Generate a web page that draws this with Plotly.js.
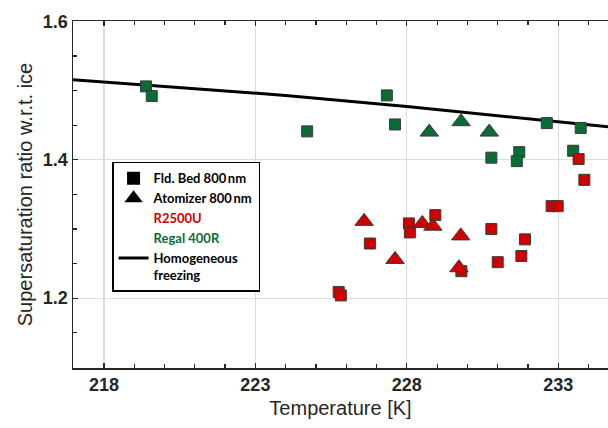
<!DOCTYPE html>
<html>
<head>
<meta charset="utf-8">
<script src="https://cdn.plot.ly/plotly-3.0.1.min.js"></script>
<style>html,body{margin:0;padding:0;background:#fff;}#chart{width:608px;height:428px;}</style>
</head>
<body>
<div id="chart"></div>
<script>
// Homogeneous freezing line
const homT = [216.9, 220, 224, 228, 232, 235];
const homS = [1.516, 1.506, 1.493, 1.477, 1.460, 1.446];

// Regal 400R, Fld. Bed (green squares)
const regalBedT = [219.39, 219.58, 224.71, 227.34, 227.61, 232.62, 233.74, 230.79, 231.71, 231.63, 233.49];
const regalBedS = [1.506, 1.492, 1.441, 1.493, 1.451, 1.453, 1.446, 1.403, 1.411, 1.398, 1.413];

// Regal 400R, Atomizer (green triangles)
const regalAtoT = [228.74, 229.79, 230.72];
const regalAtoS = [1.440, 1.455, 1.440];

// R2500U, Fld. Bed (red squares)
const rBedT = [225.75, 225.82, 226.78, 228.07, 228.10, 228.94, 230.79, 231.90, 231.78, 231.00, 229.80, 232.78, 232.98, 233.67, 233.86];
const rBedS = [1.209, 1.204, 1.279, 1.308, 1.295, 1.320, 1.300, 1.285, 1.261, 1.252, 1.239, 1.333, 1.333, 1.401, 1.371];

// R2500U, Atomizer (red triangles)
const rAtoT = [226.59, 227.61, 228.51, 228.86, 229.78, 229.72];
const rAtoS = [1.311, 1.256, 1.308, 1.304, 1.290, 1.244];

const RED = '#D00000';
const GREEN = '#0A6B35';
const EDGE = '#3a3a3a';

const traces = [
  {x: homT, y: homS, mode: 'lines', line: {color: '#000', width: 3},
   name: 'Homogeneous<br>freezing', legendrank: 5},
  {x: regalBedT, y: regalBedS, mode: 'markers', showlegend: false,
   marker: {symbol: 'square', size: 11, color: GREEN, line: {color: EDGE, width: 1}}},
  {x: regalAtoT, y: regalAtoS, mode: 'markers', showlegend: false,
   marker: {symbol: 'triangle-up', size: 16, color: GREEN, line: {color: EDGE, width: 1}}},
  {x: rBedT, y: rBedS, mode: 'markers', showlegend: false,
   marker: {symbol: 'square', size: 11, color: RED, line: {color: EDGE, width: 1}}},
  {x: rAtoT, y: rAtoS, mode: 'markers', showlegend: false,
   marker: {symbol: 'triangle-up', size: 16, color: RED, line: {color: EDGE, width: 1}}},
  // legend-only entries
  {x: [null], y: [null], mode: 'markers', name: 'Fld. Bed 800\u2009nm', legendrank: 1,
   marker: {symbol: 'square', size: 13, color: '#000'}},
  {x: [null], y: [null], mode: 'markers', name: 'Atomizer 800\u2009nm', legendrank: 2,
   marker: {symbol: 'triangle-up', size: 16, color: '#000'}},
  {x: [null], y: [null], mode: 'markers', name: '<span style="color:' + RED + '">R2500U</span>', legendrank: 3,
   marker: {symbol: 'square', size: 10, color: 'rgba(0,0,0,0)'}},
  {x: [null], y: [null], mode: 'markers', name: '<span style="color:' + GREEN + '">Regal 400R</span>', legendrank: 4,
   marker: {symbol: 'square', size: 10, color: 'rgba(0,0,0,0)'}}
];

const axisFont = {family: 'Liberation Sans, Arial, sans-serif', size: 18, color: '#262626', weight: 'bold'};
const titleFont = {family: 'Liberation Sans, Arial, sans-serif', size: 20, color: '#262626'};

const layout = {
  width: 608, height: 428,
  margin: {l: 73, r: 0, t: 21, b: 60},
  paper_bgcolor: '#fff', plot_bgcolor: '#fff',
  showlegend: true,
  legend: {
    x: 0.073, y: 0.594, xanchor: 'left', yanchor: 'top',
    bgcolor: '#fff', bordercolor: '#000', borderwidth: 1.5,
    font: {family: 'Lato, sans-serif', size: 13, color: '#000', weight: 'bold'},
    valign: 'top', traceorder: 'normal'
  },
  xaxis: {
    range: [216.98, 234.64], tick0: 218, dtick: 5,
    ticks: 'inside', ticklen: 5, tickwidth: 1.2, tickcolor: '#262626',
    minor: {dtick: 1, ticks: 'inside', ticklen: 4, tickcolor: '#262626', showgrid: false},
    showline: true, linecolor: '#262626', linewidth: 1.5, mirror: 'ticks',
    showgrid: true, gridcolor: '#dcdcdc', gridwidth: 1.2,
    zeroline: false, tickfont: axisFont,
    title: {text: 'Temperature [K]', font: titleFont, standoff: 7}
  },
  yaxis: {
    range: [1.0991, 1.6005], tick0: 1.2, dtick: 0.2, tickformat: '.1f',
    ticks: 'inside', ticklen: 5, tickwidth: 1.2, tickcolor: '#262626',
    minor: {dtick: 0.05, ticks: 'inside', ticklen: 4, tickcolor: '#262626', showgrid: false},
    showline: true, linecolor: '#262626', linewidth: 1.5, mirror: false,
    showgrid: true, gridcolor: '#dcdcdc', gridwidth: 1.2,
    zeroline: false, tickfont: axisFont,
    title: {text: 'Supersaturation ratio w.r.t. ice', font: titleFont, standoff: 5}
  }
};

Plotly.newPlot('chart', traces, layout, {displayModeBar: false, staticPlot: true});
</script>
</body>
</html>
